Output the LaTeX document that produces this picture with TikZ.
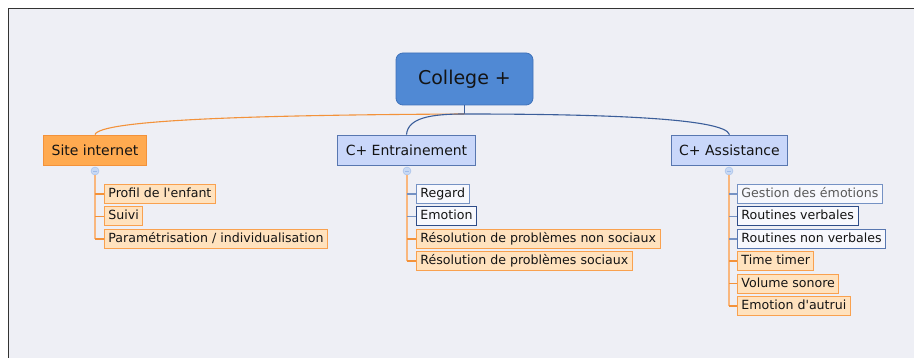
\documentclass[tikz,border=0pt]{standalone}
\usepackage{fontspec}
\setmainfont{DejaVu Sans}
\definecolor{bgpane}{HTML}{EEEFF5}
\definecolor{rootfill}{HTML}{5089D4}
\definecolor{rootline}{HTML}{3F72BA}
\definecolor{orfill}{HTML}{FFAA50}
\definecolor{orline}{HTML}{F3923A}
\definecolor{bluefill}{HTML}{C9D7FA}
\definecolor{blueline}{HTML}{5877B0}
\definecolor{peach}{HTML}{FFE2BE}
\definecolor{peachline}{HTML}{F9A14F}
\definecolor{leaffill}{HTML}{F7F8FD}
\definecolor{leafline}{HTML}{7592C4}
\definecolor{leafdark}{HTML}{2E4C88}
\definecolor{trunkcol}{HTML}{F9B77E}
\definecolor{knobfill}{HTML}{C8D9F4}
\definecolor{knobline}{HTML}{9FBBE8}
\definecolor{linkblue}{HTML}{3B5E9A}
\definecolor{textdark}{HTML}{141414}
\tikzset{
  rootbox/.style={draw=rootline, fill=rootfill, rounded corners=7pt, minimum width=137pt, minimum height=52pt, line width=0.8pt, text=textdark, font=\fontsize{19}{22}\selectfont},
  topic/.style={minimum height=30pt, inner xsep=8pt, line width=0.8pt, text=textdark, font=\fontsize{14}{16}\selectfont},
  ortopic/.style={topic, draw=orline, fill=orfill},
  bltopic/.style={topic, draw=blueline, fill=bluefill},
  leaf/.style={anchor=west, minimum height=19pt, inner xsep=4pt, inner ysep=0pt, text height=9.6pt, text depth=2.6pt, line width=0.9pt, text=textdark, font=\fontsize{12.6}{14}\selectfont},
  orleaf/.style={leaf, draw=peachline, fill=peach},
  blleaf/.style={leaf, draw=leafline, fill=leaffill},
  dkleaf/.style={leaf, draw=leafdark, fill=leaffill},
  knob/.style={circle, draw=knobline, fill=knobfill, minimum size=8pt, inner sep=0pt},
  orlink/.style={draw=orline, line width=1.1pt},
  bllink/.style={draw=linkblue, line width=1.1pt},
  trunk/.style={draw=trunkcol, line width=1.4pt},
  ortick/.style={draw=orline, line width=1.7pt},
  bltick/.style={draw=leafline, line width=1.7pt}
}
\begin{document}
\begin{tikzpicture}[x=1pt, y=-1pt]
\useasboundingbox (0,0) rectangle (914,358);
\fill[bgpane] (8,9) rectangle (914,358);
\draw[line width=1pt, black!80] (8,358) -- (8,9) -- (914,9);

\node[rootbox] (root) at (464.5,79) {College +};
\coordinate (hub) at (464.5,114);

\node[ortopic] (site) at (95,150) {Site internet};
\node[bltopic] (train) at (406.5,150) {C+ Entrainement};
\node[bltopic] (assist) at (729.5,150) {C+ Assistance};

\draw[bllink] (root.south) -- (hub);
\draw[orlink] (hub) .. controls (250,115) and (100,120) .. (site.north);
\draw[bllink] (hub) .. controls (430,114) and (408,118) .. (train.north);
\draw[bllink] (hub) .. controls (600,114) and (725,118) .. (assist.north);

% Site internet
\node[orleaf] (s1) at (104,194) {Profil de l\textquotesingle enfant};
\node[orleaf] (s2) at (104,216.4) {Suivi};
\node[orleaf] (s3) at (104,238.8) {Paramétrisation / individualisation};
\node[knob] (sk) at (95,171) {};
\draw[trunk] (sk.south) -- (sk |- s3.west);
\draw[ortick] (sk |- s1.west) -- (s1.west);
\draw[ortick] (sk |- s2.west) -- (s2.west);
\draw[ortick] (sk |- s3.west) -- (s3.west);

% C+ Entrainement
\node[blleaf] (t1) at (416,194) {Regard};
\node[dkleaf] (t2) at (416,216.4) {Emotion};
\node[orleaf] (t3) at (416,238.8) {Résolution de problèmes non sociaux};
\node[orleaf] (t4) at (416,261.2) {Résolution de problèmes sociaux};
\node[knob] (tk) at (407,171) {};
\draw[trunk] (tk.south) -- (tk |- t4.west);
\draw[bltick] (tk |- t1.west) -- (t1.west);
\draw[bltick] (tk |- t2.west) -- (t2.west);
\draw[ortick] (tk |- t3.west) -- (t3.west);
\draw[ortick] (tk |- t4.west) -- (t4.west);

% C+ Assistance
\node[blleaf, text=black!65] (a1) at (737,194) {Gestion des émotions};
\node[dkleaf] (a2) at (737,216.4) {Routines verbales};
\node[blleaf, draw=blueline] (a3) at (737,238.8) {Routines non verbales};
\node[orleaf] (a4) at (737,261.2) {Time timer};
\node[orleaf] (a5) at (737,283.6) {Volume sonore};
\node[orleaf] (a6) at (737,306) {Emotion d\textquotesingle autrui};
\node[knob] (ak) at (729,171) {};
\draw[trunk] (ak.south) -- (ak |- a6.west);
\draw[bltick] (ak |- a1.west) -- (a1.west);
\draw[bltick] (ak |- a2.west) -- (a2.west);
\draw[bltick] (ak |- a3.west) -- (a3.west);
\draw[ortick] (ak |- a4.west) -- (a4.west);
\draw[ortick] (ak |- a5.west) -- (a5.west);
\draw[ortick] (ak |- a6.west) -- (a6.west);
\foreach \k in {sk,tk,ak}
  \draw[knobline, line width=0.6pt] ([xshift=-2pt]\k.center) -- ([xshift=2pt]\k.center);
\end{tikzpicture}
\end{document}
